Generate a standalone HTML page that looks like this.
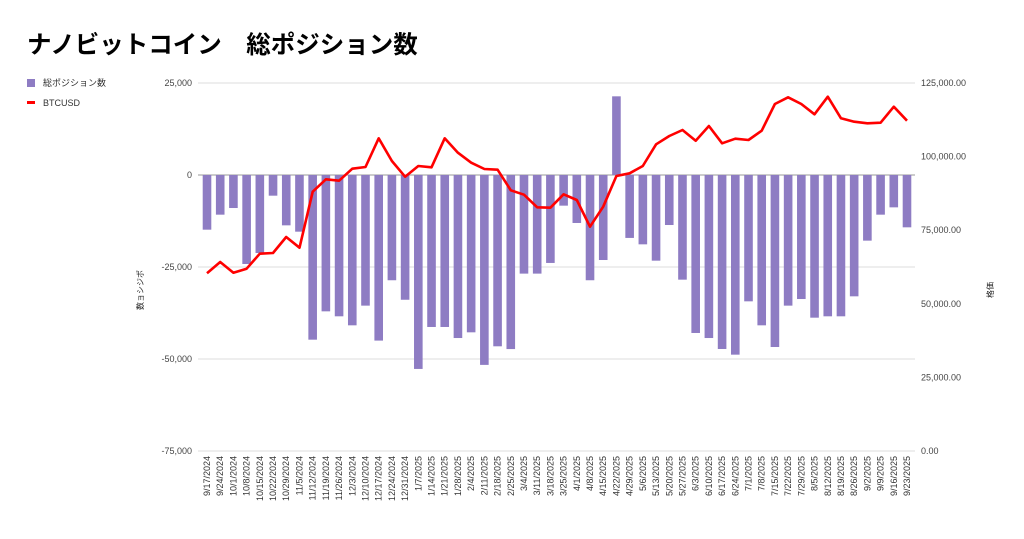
<!DOCTYPE html>
<html><head><meta charset="utf-8"><style>
body{margin:0;background:#fff;width:1024px;height:534px;overflow:hidden;font-family:"Liberation Sans","Noto Sans CJK JP",sans-serif}
</style></head><body>
<svg id="c" width="1024" height="534" xmlns="http://www.w3.org/2000/svg" style="font-family:'Liberation Sans','Noto Sans CJK JP',sans-serif">
<text x="27" y="53" font-size="24.5" font-weight="bold" fill="#000">ナノビットコイン　総ポジション数</text>
<g>
<rect x="27" y="79" width="8" height="8" fill="#8e7cc3"/>
<text x="43" y="86" font-size="9" fill="#333">総ポジション数</text>
<rect x="27" y="101" width="8" height="3" fill="#ff0000"/>
<text x="43" y="106" font-size="9" fill="#333">BTCUSD</text>
</g>
<text transform="translate(143,290) rotate(-90)" font-size="8" text-anchor="middle" fill="#222">数ョシジポ</text>
<text transform="translate(993,290) rotate(-90)" font-size="8" text-anchor="middle" fill="#222">格価</text>
<g id="grid"></g><g id="bars"></g><g id="line"></g><g id="xl"></g>
</svg>
<script>
const categories=["9/17/2024","9/24/2024","10/1/2024","10/8/2024","10/15/2024","10/22/2024","10/29/2024","11/5/2024","11/12/2024","11/19/2024","11/26/2024","12/3/2024","12/10/2024","12/17/2024","12/24/2024","12/31/2024","1/7/2025","1/14/2025","1/21/2025","1/28/2025","2/4/2025","2/11/2025","2/18/2025","2/25/2025","3/4/2025","3/11/2025","3/18/2025","3/25/2025","4/1/2025","4/8/2025","4/15/2025","4/22/2025","4/29/2025","5/6/2025","5/13/2025","5/20/2025","5/27/2025","6/3/2025","6/10/2025","6/17/2025","6/24/2025","7/1/2025","7/8/2025","7/15/2025","7/22/2025","7/29/2025","8/5/2025","8/12/2025","8/19/2025","8/26/2025","9/2/2025","9/9/2025","9/16/2025","9/23/2025"];
const positions=[-14860,-10780,-8970,-24180,-21200,-5620,-13680,-15400,-44750,-37050,-38400,-40850,-35500,-45000,-28600,-33900,-52700,-41300,-41300,-44300,-42750,-51600,-46550,-47300,-26800,-26800,-23900,-8330,-13040,-28600,-23100,21380,-17100,-18840,-23280,-13590,-28440,-42930,-44300,-47280,-48820,-34330,-40850,-46740,-35500,-33700,-38770,-38400,-38400,-32970,-17840,-10780,-8790,-14220];
const btcusd=[60360,64200,60560,61920,67020,67260,72690,69060,88080,92290,91810,95890,96470,106210,98500,93170,96800,96360,106210,101320,97930,95790,95550,88550,87060,82780,82640,87190,85260,76190,82980,93410,94320,96810,104170,107000,109030,105400,110390,104510,106080,105640,108800,117870,120140,117870,114360,120350,113010,111860,111300,111520,116950,112200];
const leftTicks=[25000,0,-25000,-50000,-75000];
const rightTicks=[125000,100000,75000,50000,25000,0];
const NS="http://www.w3.org/2000/svg";
const X0=200.4,X1=913.6,TOP=83,BOT=451;
const yL=v=>TOP+(25000-v)/100000*(BOT-TOP);
const yR=v=>BOT-v/125000*(BOT-TOP);
const step=(X1-X0)/categories.length;
const xC=i=>X0+step*(i+0.5);
function mk(t,p,a){const e=document.createElementNS(NS,t);for(const k in a)e.setAttribute(k,a[k]);p.appendChild(e);return e;}
const grid=document.getElementById('grid');
leftTicks.forEach(v=>{
 const y=yL(v);
 const l=mk('line',grid,{x1:198,x2:915,y1:y,y2:y,stroke:v===0?'#999':'#ddd','stroke-width':1});
 
 
 const t=mk('text',grid,{x:192,y:y+3,'font-size':9,'text-anchor':'end',fill:'#444'});
 t.textContent=v.toLocaleString('en-US');
 
 
});
rightTicks.forEach(v=>{
 const t=mk('text',grid,{x:921,y:yR(v)+3,'font-size':9,fill:'#444'});
 t.textContent=v.toLocaleString('en-US',{minimumFractionDigits:2});
 
 
});
const bars=document.getElementById('bars');
positions.forEach((v,i)=>{
 const y0=yL(0),y=yL(v);
 const r=mk('rect',bars,{x:xC(i)-4.3,y:Math.min(y0,y),width:8.6,height:Math.abs(y-y0),fill:'#8e7cc3'});
 
 
});
const pts=btcusd.map((v,i)=>xC(i).toFixed(1)+','+yR(v).toFixed(1)).join(' ');
const pl=mk('polyline',document.getElementById('line'),{points:pts,fill:'none',stroke:'#ff0000','stroke-width':2.6,'stroke-linejoin':'round'});


const xl=document.getElementById('xl');
categories.forEach((c,i)=>{
 const t=mk('text',xl,{transform:`translate(${xC(i)+3},456) rotate(-90)`,'font-size':9,'text-anchor':'end',fill:'#333'});
 t.textContent=c;
 
 
});
</script>
</body></html>
